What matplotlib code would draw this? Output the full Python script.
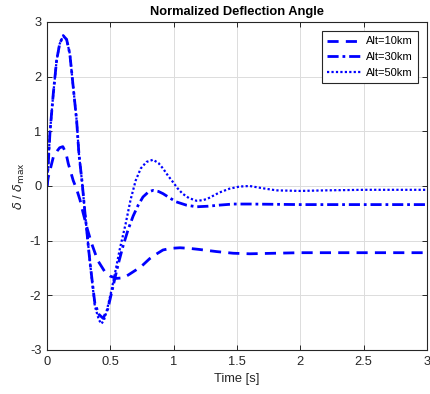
import numpy as np
import matplotlib.pyplot as plt

plt.rcParams['font.family'] = ['Liberation Sans', 'DejaVu Sans']
plt.rcParams['mathtext.fontset'] = 'dejavusans'
plt.rcParams['axes.unicode_minus'] = False

# --- Data ---
t_10 = [0, 0.01, 0.024, 0.05, 0.08, 0.10, 0.125, 0.15, 0.168, 0.207, 0.234, 0.26, 0.286, 0.32,
        0.352, 0.40, 0.457, 0.50, 0.549, 0.60, 0.64, 0.70, 0.75, 0.81, 0.86, 0.916, 0.98, 1.05,
        1.12, 1.2, 1.34, 1.47, 1.6, 1.8, 2.0, 2.5, 3.0]
y_10 = [0, 0.16, 0.29, 0.53, 0.64, 0.70, 0.72, 0.60, 0.41, 0.10, -0.06, -0.25, -0.5, -0.8,
        -1.05, -1.36, -1.57, -1.65, -1.69, -1.68, -1.63, -1.54, -1.46, -1.33, -1.25, -1.17, -1.14, -1.13,
        -1.14, -1.16, -1.2, -1.23, -1.24, -1.23, -1.22, -1.22, -1.22]

t_30 = [0, 0.012, 0.024, 0.05, 0.076, 0.1, 0.128, 0.155, 0.18, 0.207, 0.234, 0.252, 0.278, 0.30,
        0.34, 0.378, 0.41, 0.443, 0.48, 0.52, 0.56, 0.6, 0.64, 0.68, 0.72, 0.758, 0.80, 0.837, 0.88,
        0.916, 0.97, 1.02, 1.1, 1.18, 1.27, 1.36, 1.47, 1.6, 2.0, 2.5, 3.0]
y_30 = [0, 0.5, 1.0, 1.7, 2.3, 2.6, 2.75, 2.68, 2.42, 1.81, 1.2, 0.59, 0.05, -0.5,
        -1.41, -2.15, -2.35, -2.42, -2.25, -1.85, -1.45, -1.1, -0.8, -0.55, -0.35, -0.2, -0.11, -0.08, -0.1,
        -0.14, -0.22, -0.29, -0.35, -0.38, -0.37, -0.35, -0.33, -0.33, -0.34, -0.34, -0.34]

t_50 = [0, 0.012, 0.024, 0.05, 0.076, 0.1, 0.128, 0.155, 0.18, 0.207, 0.234, 0.252, 0.278, 0.30,
        0.34, 0.378, 0.41, 0.43, 0.45, 0.47, 0.51, 0.545, 0.575, 0.62, 0.66, 0.70, 0.74, 0.785, 0.837,
        0.88, 0.916, 0.955, 0.995, 1.03, 1.07, 1.12, 1.18, 1.23, 1.27, 1.36, 1.44, 1.52, 1.6, 1.7,
        1.81, 2.0, 2.2, 2.5, 3.0]
y_50 = [0, 0.5, 1.0, 1.7, 2.3, 2.6, 2.75, 2.68, 2.42, 1.81, 1.2, 0.59, 0.05, -0.5,
        -1.41, -2.2, -2.45, -2.52, -2.45, -2.3, -1.9, -1.5, -1.15, -0.7, -0.25, 0.1, 0.32, 0.44, 0.48,
        0.42, 0.32, 0.19, 0.07, -0.04, -0.14, -0.22, -0.27, -0.26, -0.23, -0.12, -0.05, -0.01, 0.0, -0.04,
        -0.08, -0.09, -0.08, -0.07, -0.07]

fig = plt.figure(figsize=(4.3, 3.94), dpi=100)
ax = fig.add_axes([47 / 430, 1 - 350 / 394, 380 / 430, 328 / 394])

ax.plot(t_10, y_10, color='#0000ff', lw=2, dashes=(4, 2.6), label='Alt=10km')
ax.plot(t_30, y_30, color='#0000ff', lw=2, dashes=(4, 1.4, 1, 1.4), label='Alt=30km')
ax.plot(t_50, y_50, color='#0000ff', lw=1.6, dashes=(1, 1), label='Alt=50km')

ax.set_xlim(0, 3)
ax.set_ylim(-3, 3)
ax.set_xticks(np.arange(0, 3.01, 0.5))
ax.set_xticklabels(['0', '0.5', '1', '1.5', '2', '2.5', '3'])
ax.set_yticks(np.arange(-3, 4, 1))

ax.grid(True, color='#dcdcdc', lw=0.7)
ax.set_axisbelow(True)
ax.tick_params(direction='in', length=3.5, width=0.7, top=True, right=True,
               labelsize=9.3, colors='#262626', pad=4)
for s in ax.spines.values():
    s.set_color('#262626')
    s.set_linewidth(0.8)

ax.set_title('Normalized Deflection Angle', fontsize=9.3, fontweight='bold', pad=5)
ax.set_xlabel('Time [s]', fontsize=9.3, color='#262626', labelpad=4)
ax.set_ylabel(r'$\delta$ / $\delta_{\mathrm{max}}$', fontsize=9.3, color='#262626', labelpad=2)

leg = ax.legend(loc='upper right', fontsize=8, fancybox=False, framealpha=1,
                edgecolor='#262626', handlelength=3.2, handletextpad=0.3,
                borderpad=0.45, labelspacing=0.5, borderaxespad=0.85)
leg.get_frame().set_linewidth(0.8)

fig.savefig('out.png', dpi=100)
